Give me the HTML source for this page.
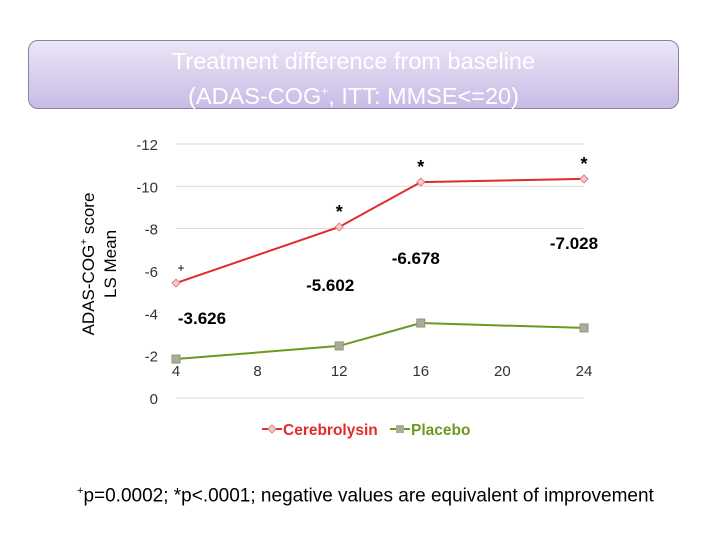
<!DOCTYPE html>
<html><head><meta charset="utf-8"><style>
body{margin:0;width:720px;height:540px;background:#fff;font-family:"Liberation Sans",sans-serif;overflow:hidden;position:relative}
#title{position:absolute;left:28px;top:40px;width:651px;height:69px;border:1px solid #8a7fa8;border-radius:10px;background:linear-gradient(#ece6f6,#c9bbe6);color:#fff;text-align:center;font-size:23.5px;line-height:30px;padding-top:5px;box-sizing:border-box}
#foot{position:absolute;left:77px;top:485px;font-size:19px;color:#000;white-space:nowrap}
</style></head><body>
<div id="title">Treatment difference from baseline<br>(ADAS-COG<sup style="font-size:12px">+</sup>, ITT: MMSE&lt;=20)</div>
<svg id="chart" width="720" height="540" style="position:absolute;left:0;top:0"></svg>
<div id="foot"><sup style="font-size:11px">+</sup>p=0.0002; *p&lt;.0001; negative values are equivalent of improvement</div>
<script>
const weeks=[4,12,16,24];
const cerebro=[-5.43,-8.08,-10.2,-10.35];
const placebo=[-1.84,-2.46,-3.54,-3.31];
const yTicks=[-12,-10,-8,-6,-4,-2,0];
const xTicks=[4,8,12,16,20,24];
const diffLabels=["-3.626","-5.602","-6.678","-7.028"];
const sigMarks=["+","*","*","*"];
const NS="http://www.w3.org/2000/svg";
const svg=document.getElementById('chart');
const X=v=>176+(v-4)*20.4;
const Y=v=>398+v*21.17;
function mk(t,a,txt){const e=document.createElementNS(NS,t);for(const k in a)e.setAttribute(k,a[k]);if(txt!==undefined)e.textContent=txt;svg.appendChild(e);return e;}
yTicks.forEach(v=>{
 if(v<=-8||v===0){const g=mk('line',{x1:176,x2:584,y1:Y(v),y2:Y(v),stroke:'#d9d9d9','stroke-width':1});
 
 }
 const t=mk('text',{x:158,y:Y(v)+6,'text-anchor':'end','font-size':15,fill:'#333'},String(v));
 
 
});
xTicks.forEach(v=>{
 const t=mk('text',{x:X(v),y:376,'text-anchor':'middle','font-size':15,fill:'#333'},String(v));
 
 
});
const yt=mk('text',{transform:'translate(94,264) rotate(-90)','text-anchor':'middle','font-size':17,fill:'#000'});


yt.innerHTML='<tspan x="0" dy="0">ADAS-COG<tspan font-size="10" dy="-7">+</tspan><tspan dy="7"> score</tspan></tspan><tspan x="0" dy="22">LS Mean</tspan>';
function series(vals,color,marker,name){
 const p=mk('polyline',{points:vals.map((v,i)=>X(weeks[i])+','+Y(v)).join(' '),fill:'none',stroke:color,'stroke-width':2});
 
 
 vals.forEach((v,i)=>{
  let m;
  if(marker==='d')m=mk('polygon',{points:`${X(weeks[i])},${Y(v)-4} ${X(weeks[i])+4},${Y(v)} ${X(weeks[i])},${Y(v)+4} ${X(weeks[i])-4},${Y(v)}`,fill:'#f6c9c9',stroke:'#e08080'});
  else m=mk('rect',{x:X(weeks[i])-4,y:Y(v)-4,width:8,height:8,fill:'#a9ad9a',stroke:'#8e9480'});
  
  
 });
}
series(cerebro,'#e32a2a','d','cerebrolysin');
series(placebo,'#6c9a1e','s','placebo');
const labOff=[[26,41],[-9,64],[-5,82],[-10,70]];
diffLabels.forEach((s,i)=>{
 const t=mk('text',{x:X(weeks[i])+labOff[i][0],y:Y(cerebro[i])+labOff[i][1],'text-anchor':'middle','font-size':17,'font-weight':'bold',fill:'#000'},s);
 
 
 const m=mk('text',{x:X(weeks[i])+(i===0?5:0),y:Y(cerebro[i])-(i===0?11:9),'text-anchor':'middle','font-size':i===0?12:18,'font-weight':i===0?'normal':'bold',fill:'#000'},sigMarks[i]);
 
 
});
const lg=[['Cerebrolysin','#e32a2a',262,'d'],['Placebo','#6c9a1e',390,'s']];
lg.forEach(([n,c,x,mkr])=>{
 const l=mk('line',{x1:x,x2:x+20,y1:429,y2:429,stroke:c,'stroke-width':2});
 
 
 let m;
 if(mkr==='d')m=mk('polygon',{points:`${x+10},425 ${x+14},429 ${x+10},433 ${x+6},429`,fill:'#f6c9c9',stroke:'#e08080'});
 else m=mk('rect',{x:x+6,y:425,width:8,height:8,fill:'#a9ad9a'});
 
 
 const t=mk('text',{x:x+21,y:435,'font-size':15.5,'font-weight':'bold',fill:c},n);
 
 
});
</script>
</body></html>
